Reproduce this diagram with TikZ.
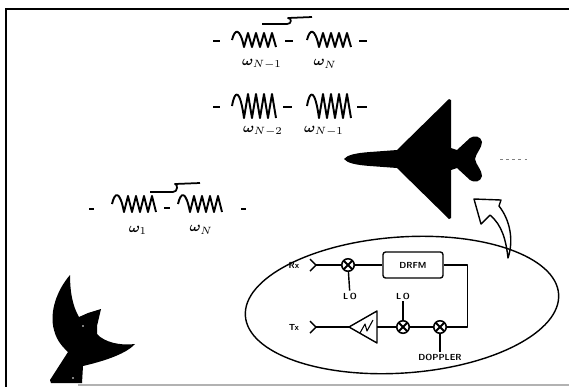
\documentclass[tikz,border=0pt]{standalone}
\usepackage{amsmath,amssymb,bm}

\begin{document}
\begin{tikzpicture}[x=.02cm,y=-.02cm,line join=round]
\tikzset{wire/.style={line width=.8pt},
 filt/.style={line width=1.1pt},
 mixer/.style={draw,circle,fill=white,line width=.9pt,minimum size=.25cm,inner sep=0pt,
  path picture={\draw[line width=1.1pt] (path picture bounding box.north west)--(path picture bounding box.south east)
   (path picture bounding box.north east)--(path picture bounding box.south west);}},
 lbl/.style={font=\fontsize{5}{6}\selectfont\sffamily\bfseries,inner sep=1pt},
 wlab/.style={font=\fontsize{8}{9}\selectfont,inner sep=0pt}}
\useasboundingbox (0,0) rectangle (569,387);
\draw[line width=1.3pt] (5,9)--(569,9);
\draw[line width=1pt] (6,9)--(6,387);
\draw[gray!60,line width=1pt] (78,385)--(569,385);
\foreach \x/\y/\a in {232/40/7,307/40/7,232/106/12,307/106/12,112/204/8,178/204/8}{
 \draw[filt] (\x,\y) .. controls (\x+3,\y-\a-5) and (\x+8,\y-\a-5) .. (\x+12,\y+\a)
  -- ++(4,-2*\a) -- ++(4,2*\a) -- ++(4,-2*\a) -- ++(4,2*\a)
  -- ++(4,-2*\a) -- ++(4,2*\a) -- ++(4,-2*\a) -- ++(4,2*\a);
}
\foreach \xa/\xb/\y in {213/220/41,285/293/41,359/367/41,213/220/107,283/292/107,357/367/107,89/94/209,164/170/208,241/246/209}{
 \draw[line width=1.3pt] (\xa,\y)--(\xb,\y);
}
\draw[line width=1pt] (262,24)--(287,24) .. controls (292,24) and (292,18) .. (288,18)--(312,17);
\draw[line width=1pt] (150,192)--(173,192) .. controls (178,192) and (178,184) .. (175,184)--(200,183);
\node[wlab] (w1) at (262,64) {$\boldsymbol{\omega}_{N-1}$};
\node[wlab] (w2) at (325,64) {$\boldsymbol{\omega}_N$};
\node[wlab] (w3) at (263,131) {$\boldsymbol{\omega}_{N-2}$};
\node[wlab] (w4) at (324,131) {$\boldsymbol{\omega}_{N-1}$};
\node[wlab] (w5) at (138,230) {$\boldsymbol{\omega}_1$};
\node[wlab] (w6) at (201,230) {$\boldsymbol{\omega}_N$};
\fill (344,159) .. controls (347,155) and (356,153) .. (370,152)--(397,150)--(449,99)--(451,100)--(451,148)--(457,150)--(470,138)
 .. controls (474,135) and (481,136) .. (482,142) .. controls (482,148) and (476,153) .. (475,159)
 .. controls (476,165) and (482,170) .. (482,176) .. controls (481,182) and (474,183) .. (470,180)
 --(457,168)--(451,170)--(451,218)--(449,219)--(397,168)--(370,166) .. controls (356,165) and (347,163) .. (344,159)--cycle;
\draw[gray,line width=.5pt,dash pattern=on 1.5pt off 2pt] (500,159)--(528,159);
\fill (70,275) .. controls (57,290) and (49,312) .. (54,330) .. controls (57,342) and (64,348) .. (68,352)
 --(50,380)--(51,383)--(82,383)--(83,366) .. controls (100,362) and (125,355) .. (135,344)
 .. controls (120,346) and (104,342) .. (97,334)--(97,326)--(101,309)--(88,313)--(79,317)
 .. controls (72,305) and (70,290) .. (70,275)--cycle;
\fill[white] (83,326) circle (.8) (73,378) circle (.8);
\draw[line width=.8pt,fill=white] (474,199)--(501,200)--(499,206) .. controls (510,220) and (514,240) .. (508,258)
 .. controls (506,240) and (502,225) .. (490,215)--(481,224)--cycle;
\draw[line width=.8pt,rotate around={4:(402,305)}] (402,305) ellipse [x radius=157,y radius=68];
\node[lbl] (rx) at (294,265) {Rx};
\node[lbl] (tx) at (294,327) {Tx};
\coordinate (rxin) at (316,265);
\coordinate (txin) at (316,327);
\foreach \c in {rxin,txin}{\draw[wire] ([shift={(-6,-6)}]\c)--(\c)--([shift={(-6,6)}]\c);}
\node[mixer] (m1) at (348,265) {};
\node[lbl,draw,rounded corners=1.5pt,line width=.8pt,minimum width=1.2cm,minimum height=.52cm] (drfm) at (413,265) {DRFM};
\node[mixer] (m2) at (403,327) {};
\node[mixer] (m3) at (440,327) {};
\node[lbl] (lo1) at (350,296) {L\,O};
\node[lbl] (lo2) at (403,296) {L\,O};
\node[lbl] (dop) at (440,357) {DOPPLER};
\coordinate (amptip) at (349,327);
\coordinate (ampbase) at (377,327);
\draw[wire] (amptip)--(377,311)--(377,343)--cycle;
\draw[line width=.6pt] (360,333)--(365,324)--(367,331)--(373,320);
\draw[wire] (rxin)--(m1)--(drfm);
\draw[wire] (drfm.east)--++(24,0) |- (m3);
\draw[wire] (m3)--(m2)--(ampbase);
\draw[wire] (txin)--(amptip);
\draw[wire] (m1)--(lo1);
\draw[wire] (lo2)--(m2);
\draw[wire] (m3)--(dop);
\end{tikzpicture}
\end{document}
